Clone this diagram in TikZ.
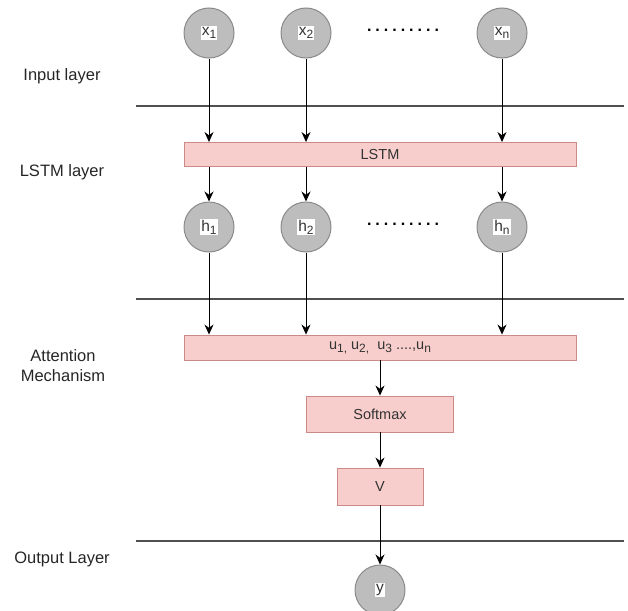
\documentclass[tikz,border=0pt]{standalone}
\usepackage{fontspec}
\setmainfont{Liberation Sans}
\usetikzlibrary{arrows.meta}
\definecolor{boxfill}{HTML}{F8CECC}
\definecolor{boxdraw}{HTML}{C98A88}
\definecolor{circfill}{HTML}{BDBDBD}
\definecolor{circdraw}{HTML}{8A8A8A}
\definecolor{txt}{HTML}{333333}
\definecolor{sep}{HTML}{505050}
\newcommand{\wlab}[1]{{\setlength{\fboxsep}{1.2pt}\colorbox{white}{#1}}}
\newcommand{\lsub}[1]{\raisebox{-3pt}{\fontsize{12}{12}\selectfont #1}}
\tikzset{
  circ/.style={circle, minimum size=50pt, inner sep=0pt, fill=circfill, draw=circdraw, line width=1pt, text=txt, font=\fontsize{15.5}{17}\selectfont},
  pbox/.style={rectangle, fill=boxfill, draw=boxdraw, line width=0.9pt, inner sep=0pt, text=txt, font=\fontsize{14.5}{16}\selectfont},
  layerlab/.style={text=black!85, font=\fontsize{16.5}{20}\selectfont, align=center, inner sep=0pt},
  arr/.style={-{Stealth[length=10pt,width=9pt]}, line width=1pt, black},
  sepline/.style={line width=1.2pt, sep},
  dotsrow/.style={text=black, font=\fontsize{16}{18}\selectfont\bfseries, inner sep=0pt}
}
\begin{document}
\begin{tikzpicture}[x=1pt, y=-1pt]
\useasboundingbox (0,0) rectangle (628,610);
% input circles
\node[circ] (x1) at (209,33) {\wlab{x\lsub{1}}};
\node[circ] (x2) at (306,33) {\wlab{x\lsub{2}}};
\node[circ] (xn) at (502,33) {\wlab{x\lsub{n}}};
\node[dotsrow] (xdots) at (403,30) {.\hspace{4pt}.\hspace{4pt}.\hspace{4pt}.\hspace{4pt}.\hspace{4pt}.\hspace{4pt}.\hspace{4pt}.\hspace{4pt}.};
% LSTM
\node[pbox, minimum width=392pt, minimum height=24pt] (lstm) at (380,154.5) {LSTM};
% hidden circles
\node[circ] (h1) at (209,227) {\wlab{h\lsub{1}}};
\node[circ] (h2) at (306,227) {\wlab{h\lsub{2}}};
\node[circ] (hn) at (502,227) {\wlab{h\lsub{n}}};
\node[dotsrow] (hdots) at (403,224) {.\hspace{4pt}.\hspace{4pt}.\hspace{4pt}.\hspace{4pt}.\hspace{4pt}.\hspace{4pt}.\hspace{4pt}.\hspace{4pt}.};
% attention
\node[pbox, minimum width=392pt, minimum height=25pt] (att) at (380,347.5) {u\lsub{1,} u\lsub{2,}\ \ u\lsub{3} ....,u\lsub{n}};
\node[pbox, minimum width=147pt, minimum height=36pt] (soft) at (380,414) {Softmax};
\node[pbox, minimum width=86pt, minimum height=37pt] (v) at (380,486.5) {V};
\node[circ] (y) at (380,590) {\wlab{y}};
% layer labels
\node[layerlab] (linput) at (62,76) {Input layer};
\node[layerlab] (llstm) at (62,172) {LSTM layer};
\node[layerlab] (latt) at (63,366) {Attention\\Mechanism};
\node[layerlab] (lout) at (62,559) {Output Layer};
% separator lines
\coordinate (s1a) at (136,106); \coordinate (s1b) at (624,106);
\coordinate (s2a) at (136,299); \coordinate (s2b) at (624,299);
\coordinate (s3a) at (136,541); \coordinate (s3b) at (624,541);
\draw[sepline] (s1a) -- (s1b);
\draw[sepline] (s2a) -- (s2b);
\draw[sepline] (s3a) -- (s3b);
% arrows
\foreach \n in {x1,x2,xn} \draw[arr] (\n.south) -- (\n.south |- lstm.north);
\foreach \n in {h1,h2,hn} \draw[arr] (\n.north |- lstm.south) -- (\n.north);
\foreach \n in {h1,h2,hn} \draw[arr] (\n.south) -- (\n.south |- att.north);
\draw[arr] (att.south) -- (soft.north);
\draw[arr] (soft.south) -- (v.north);
\draw[arr] (v.south) -- (y.north);
\end{tikzpicture}
\end{document}
